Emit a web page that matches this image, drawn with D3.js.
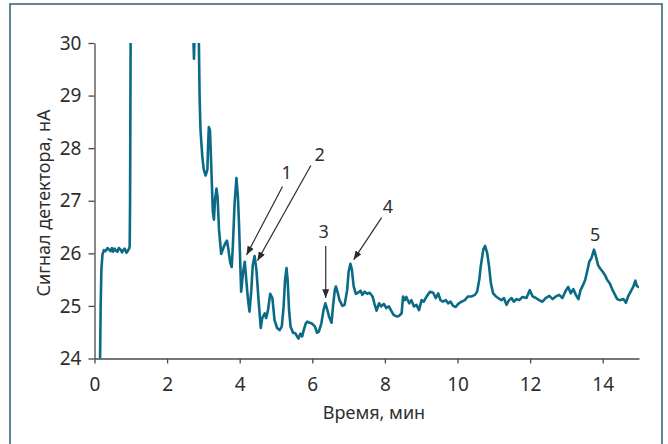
<!DOCTYPE html>
<html><head><meta charset="utf-8">
<script src="https://cdn.jsdelivr.net/npm/d3@7"></script>
<style>
html,body{margin:0;padding:0;background:#fff;}
svg{display:block;font-family:"Noto Sans",sans-serif;}
</style></head>
<body><svg id="c" width="668" height="444"></svg>
<script>
// ---- data (time, min / detector signal, nA) ----
const times = [0.15,0.17,0.19,0.22,0.26,0.30,0.36,0.40,0.44,0.48,0.51,0.55,0.59,0.63,0.67,0.72,0.76,0.79,0.83,0.88,0.92,0.96,0.97,0.98,0.99,1.00,
 2.70,2.72,2.74,2.76,2.79,2.86,2.87,2.895,2.92,2.97,3.01,3.06,3.11,3.13,3.15,3.18,3.22,3.26,3.29,3.32,3.36,3.39,3.43,3.49,3.56,3.61,3.65,3.69,3.74,3.78,3.81,3.86,3.91,3.95,3.98,
 4.04,4.09,4.14,4.18,4.23,4.27,4.32,4.36,4.41,4.46,4.52,4.58,4.62,4.69,4.73,4.78,4.84,4.90,4.96,5.03,5.10,5.16,5.21,5.25,5.29,5.32,5.36,5.40,5.47,5.53,5.58,5.62,5.67,5.72,5.76,5.82,5.86,5.93,
 6.00,6.07,6.13,6.18,6.25,6.31,6.36,6.40,6.46,6.53,6.57,6.62,6.65,6.70,6.75,6.83,6.89,6.96,7.00,7.05,7.09,7.14,7.20,7.26,7.33,7.38,7.44,7.51,7.58,7.66,7.71,7.77,7.84,7.90,7.97,
 8.04,8.11,8.18,8.24,8.32,8.39,8.46,8.50,8.55,8.59,8.67,8.73,8.80,8.87,8.94,9.01,9.07,9.15,9.24,9.33,9.40,9.47,9.53,9.60,9.68,9.74,9.81,9.88,9.95,
 10.02,10.11,10.20,10.29,10.39,10.48,10.54,10.60,10.64,10.71,10.76,10.82,10.87,10.92,10.98,11.06,11.12,11.21,11.28,11.35,11.42,11.49,11.55,11.63,11.70,11.79,11.90,11.99,
 12.07,12.16,12.25,12.34,12.43,12.53,12.62,12.71,12.80,12.89,12.99,13.05,13.12,13.19,13.26,13.33,13.39,13.46,13.52,13.57,13.63,13.69,13.76,13.81,13.87,13.92,
 14.00,14.06,14.12,14.20,14.26,14.34,14.40,14.47,14.57,14.64,14.70,14.77,14.84,14.90,14.94,14.99];
const signal = [23.8,25.0,25.7,25.98,26.06,26.04,26.10,26.07,26.04,26.10,26.03,26.09,26.05,26.03,26.10,26.07,26.02,26.06,26.09,26.01,26.05,26.10,26.15,27.0,29.0,31.0,
 31.0,30.2,29.70,30.2,31.0,31.0,30.3,28.98,28.35,27.84,27.59,27.48,27.59,28.07,28.40,28.35,27.59,26.79,26.64,27.02,27.23,27.08,26.45,25.99,26.12,26.20,26.24,26.07,25.82,25.74,26.12,26.96,27.43,27.08,26.58,
 25.27,25.63,25.84,25.50,25.11,24.89,25.30,25.78,25.95,25.69,25.11,24.58,24.77,24.86,24.77,24.92,25.23,25.15,24.73,24.58,24.54,24.61,24.99,25.50,25.72,25.50,24.92,24.61,24.49,24.48,24.42,24.38,24.47,24.42,24.53,24.67,24.70,24.68,
 24.66,24.61,24.49,24.51,24.67,24.92,25.05,24.96,24.80,24.68,24.99,25.30,25.37,25.25,25.11,25.00,25.02,25.30,25.65,25.80,25.69,25.37,25.23,25.25,25.29,25.21,25.27,25.23,25.25,25.18,25.05,24.91,25.05,24.99,25.04,
 24.96,24.99,24.90,24.83,24.80,24.81,24.86,25.18,25.11,25.17,25.05,25.11,24.99,25.02,24.92,25.11,25.08,25.18,25.27,25.25,25.15,25.24,25.11,25.08,25.11,25.05,25.08,25.00,24.98,
 25.04,25.08,25.11,25.18,25.18,25.21,25.27,25.50,25.75,26.07,26.14,26.00,25.75,25.43,25.24,25.18,25.15,25.11,25.15,25.02,25.11,25.15,25.08,25.13,25.11,25.17,25.15,25.30,
 25.18,25.15,25.11,25.08,25.15,25.19,25.13,25.18,25.21,25.15,25.30,25.36,25.24,25.32,25.21,25.13,25.30,25.40,25.50,25.65,25.84,25.91,26.07,25.95,25.78,25.72,
 25.65,25.59,25.50,25.42,25.32,25.21,25.13,25.11,25.13,25.06,25.18,25.27,25.36,25.48,25.38,25.36];

const xTicks = [0,2,4,6,8,10,12,14];
const yTicks = [24,25,26,27,28,29,30];
const xTitle = "Время, мин";
const yTitle = "Сигнал детектора, нА";

// peak annotations: label, label position, arrow from -> to (data units)
const peakLabels = ["1","2","3","4","5"];
const labelT = [5.29,6.20,6.31,8.08,13.79];
const labelV = [27.53,27.88,26.41,26.89,26.35];
const arrowFromT = [5.18,5.96,6.37,7.91,null];
const arrowFromV = [27.27,27.67,26.14,26.68,null];
const arrowToT = [4.19,4.49,6.37,7.14,null];
const arrowToV = [25.97,25.86,25.15,25.88,null];

// ---- drawing ----
const svg = d3.select("#c");
const x = d3.scaleLinear().domain([0,15]).range([94.5,639]);
const y = d3.scaleLinear().domain([24,30]).range([358.5,43]);

// frame
svg.append("rect").attr("x",10).attr("y",4).attr("width",652).attr("height",460)
  .attr("fill","none").attr("stroke","#3a6680").attr("stroke-width",1.6);

const axisColor = "#4a4a4a";
const textColor = "#2e2e2e";

const gx = svg.append("g").attr("transform",`translate(0,${y(24)})`)
  .call(d3.axisBottom(x).tickValues(xTicks).tickFormat(d3.format("d")).tickSize(5).tickPadding(14).tickSizeOuter(0));
const gy = svg.append("g").attr("transform",`translate(${x(0)},0)`)
  .call(d3.axisLeft(y).tickValues(yTicks).tickFormat(d3.format("d")).tickSize(6).tickPadding(7).tickSizeOuter(0));
[gx,gy].forEach(g=>{
  g.select(".domain").attr("stroke",axisColor).attr("stroke-width",1.3);
  g.selectAll(".tick line").attr("stroke",axisColor).attr("stroke-width",1.3);
  g.selectAll(".tick text").attr("fill",textColor).style("font-size","19px").style("font-family","'Noto Sans',sans-serif");
});

svg.append("text").attr("x",374).attr("y",419).attr("text-anchor","middle")
  .attr("fill",textColor).style("font-size","18px").text(xTitle);
svg.append("text").attr("transform","translate(50,203) rotate(-90)").attr("text-anchor","middle")
  .attr("fill",textColor).style("font-size","18px").text(yTitle);

// clip
svg.append("clipPath").attr("id","clip").append("rect")
  .attr("x",x(0)).attr("y",y(30)).attr("width",x(15)-x(0)).attr("height",y(24)-y(30));

const pts = times.map((t,i)=>[t,signal[i]]);
svg.append("path").datum(pts).attr("clip-path","url(#clip)")
  .attr("fill","none").attr("stroke","#0b6a85").attr("stroke-width",2.6)
  .attr("stroke-linejoin","round").attr("stroke-linecap","round")
  .attr("d",d3.line().x(d=>x(d[0])).y(d=>y(d[1])));

// arrow marker
svg.append("defs").append("marker").attr("id","arr").attr("markerUnits","userSpaceOnUse")
  .attr("viewBox","0 0 10 8").attr("refX",10).attr("refY",4)
  .attr("markerWidth",9).attr("markerHeight",7).attr("orient","auto")
  .append("path").attr("d","M0,0 L10,4 L0,8 Z").attr("fill","#2b2b2b");

peakLabels.forEach((lab,i)=>{
  if(arrowFromT[i]!==null){
    svg.append("line").attr("x1",x(arrowFromT[i])).attr("y1",y(arrowFromV[i]))
      .attr("x2",x(arrowToT[i])).attr("y2",y(arrowToV[i]))
      .attr("stroke","#2b2b2b").attr("stroke-width",1.2).attr("marker-end","url(#arr)");
  }
  svg.append("text").attr("x",x(labelT[i])).attr("y",y(labelV[i]))
    .attr("dy","0.36em").attr("text-anchor","middle").attr("fill",textColor)
    .style("font-size","18px").text(lab);
});
</script></body></html>
